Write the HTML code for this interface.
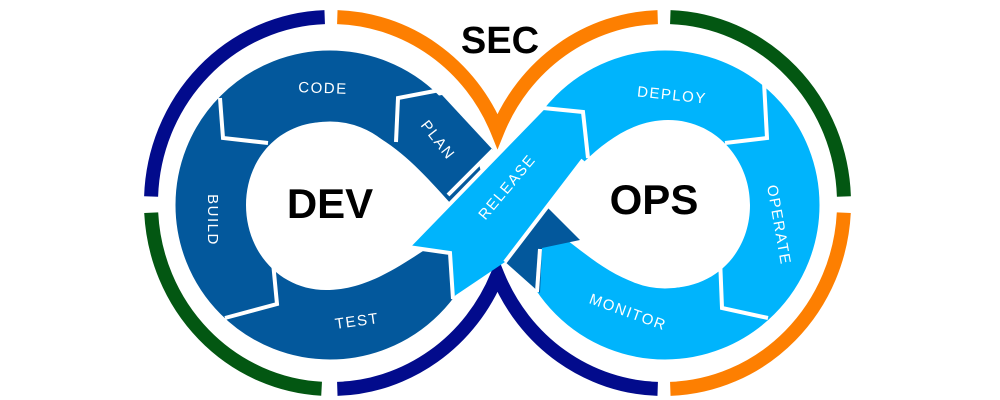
<!DOCTYPE html>
<html><head><meta charset="utf-8"><style>
html,body{margin:0;padding:0;background:#fff;width:1000px;height:400px;overflow:hidden}
svg{display:block}
.l{font-family:"Liberation Sans",sans-serif;fill:#fff;font-size:15px;letter-spacing:1.5px}
.b{font-family:"Liberation Sans",sans-serif;font-weight:bold;fill:#000}
</style></head><body>
<svg width="1000" height="400" viewBox="0 0 1000 400">
<rect width="1000" height="400" fill="#fff"/>
<g fill="none" stroke-width="14">
<path d="M337.3,17.1 A180,186 0 0 1 497.5,131 A180,186 0 0 1 657.7,17.1" stroke="#fd7f01"/>
<path d="M151.1,196.5 A180,186 0 0 1 324.7,17.1" stroke="#020b8c"/>
<path d="M321.6,388.7 A180,186 0 0 1 151.2,212.7" stroke="#035712"/>
<path d="M657.7,388.9 A180,186 0 0 1 497.5,275 A180,186 0 0 1 337.3,388.9" stroke="#020b8c"/>
<path d="M843.8,212.7 A180,186 0 0 1 670.3,388.9" stroke="#fd7f01"/>
<path d="M670.3,17.1 A180,186 0 0 1 843.9,196.5" stroke="#035712"/>
</g>
<circle cx="330" cy="205" r="119" fill="none" stroke="#03589c" stroke-width="71"/>
<circle cx="665" cy="205" r="119" fill="none" stroke="#00b4fc" stroke-width="71"/>
<polygon points="400,102 442,95 493,150 448,195 400,150" fill="#03589c"/>
<path d="M452,205 C420,170 380,122 326,122 C278,122 246,160 246,205 C246,252 280,290 326,290 C370,290 405,262 440,240 Z" fill="#fff"/>
<path d="M545,205 C575,170 615,120 668,120 C716,120 750,160 750,205 C750,252 716,288 668,288 C622,288 592,258 560,235 Z" fill="#fff"/>
<polygon points="503,260 547,207 580,240 542,248 540,293" fill="#03589c"/>
<polygon points="408,247 450,253 453,297 505,262 583,160 580,113 543,108" fill="#00b4fc"/>
<g fill="none" stroke="#fff" stroke-width="4" stroke-linejoin="miter">
<polyline points="220,98 223,138 268,143"/>
<polyline points="440,90 398,98 396,142"/>
<polyline points="273,262 277,304 225,318"/>
<polyline points="408,247 450,253 453,299"/>
<polyline points="408,247 543,108 583,112 588,158"/>
<polyline points="764,82 767,138 725,143"/>
<polyline points="720,258 722,308 768,318"/>
<polyline points="540,249 537,292"/>
<polyline points="493,150 448,195"/>
<polyline points="583,160 505,262"/>
</g>
<text class="l" x="323" y="93" text-anchor="middle" transform="rotate(2 323 88)">CODE</text>
<text class="l" x="438" y="145" text-anchor="middle" transform="rotate(52 438 140)">PLAN</text>
<text class="l" x="213" y="225" text-anchor="middle" transform="rotate(90 213 220)">BUILD</text>
<text class="l" x="357" y="326" text-anchor="middle" transform="rotate(-8 357 321)">TEST</text>
<text class="l" x="507" y="192" text-anchor="middle" transform="rotate(-50 507 187)">RELEASE</text>
<text class="l" x="672" y="100" text-anchor="middle" transform="rotate(6 672 95)">DEPLOY</text>
<text class="l" x="779" y="230" text-anchor="middle" transform="rotate(80 779 225)">OPERATE</text>
<text class="l" x="628" y="317" text-anchor="middle" transform="rotate(20 628 312)">MONITOR</text>
<text class="b" x="330" y="218" font-size="42" text-anchor="middle">DEV</text>
<text class="b" x="654" y="214" font-size="42" text-anchor="middle">OPS</text>
<text class="b" x="500" y="53" font-size="38" text-anchor="middle">SEC</text>
</svg>
</body></html>
